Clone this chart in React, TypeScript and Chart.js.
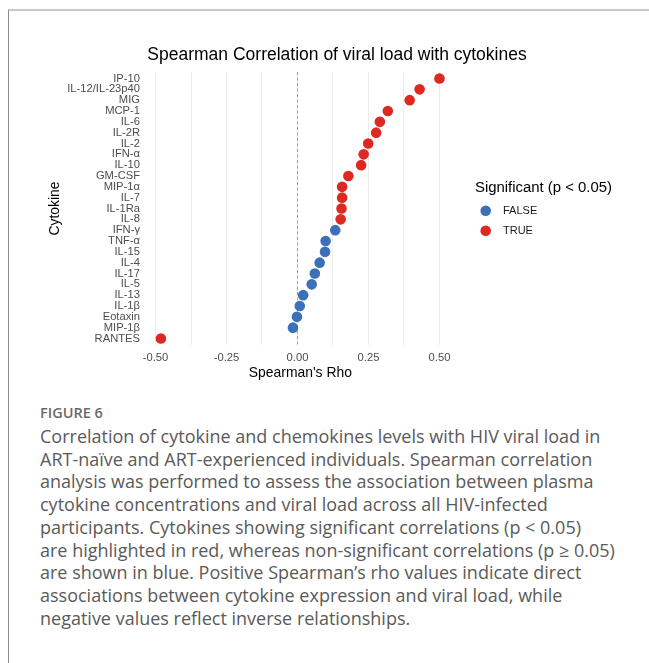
import React, { useEffect, useRef } from 'react';
import { Chart, registerables } from 'chart.js';

Chart.register(...registerables);

// ---------- data ----------
const cytokines = [
  'IP-10', 'IL-12/IL-23p40', 'MIG', 'MCP-1', 'IL-6', 'IL-2R', 'IL-2', 'IFN-α', 'IL-10', 'GM-CSF',
  'MIP-1α', 'IL-7', 'IL-1Ra', 'IL-8', 'IFN-γ', 'TNF-α', 'IL-15', 'IL-4', 'IL-17', 'IL-5',
  'IL-13', 'IL-1β', 'Eotaxin', 'MIP-1β', 'RANTES',
];
const rhoValues = [
  0.5, 0.43, 0.395, 0.318, 0.29, 0.277, 0.249, 0.233, 0.224, 0.179,
  0.157, 0.157, 0.155, 0.152, 0.133, 0.099, 0.097, 0.078, 0.061, 0.05,
  0.02, 0.008, -0.002, -0.016, -0.481,
];
const significant = [
  true, true, true, true, true, true, true, true, true, true,
  true, true, true, true, false, false, false, false, false, false,
  false, false, false, false, true,
];
const gridValues = [-0.5, -0.375, -0.25, -0.125, 0, 0.125, 0.25, 0.375, 0.5];
const xTickValues = [-0.5, -0.25, 0, 0.25, 0.5];
const xTickLabels = ['-0.50', '-0.25', '0.00', '0.25', '0.50'];
const groupLabels = ['FALSE', 'TRUE'];
const groupColors = ['#3c70b8', '#dc2a22'];
const legendTitle = 'Significant (p < 0.05)';
const chartTitle = 'Spearman Correlation of viral load with cytokines';
const xTitle = "Spearman's Rho";
const yTitle = 'Cytokine';
const captionHead = 'FIGURE 6';
const captionLines = [
  'Correlation of cytokine and chemokines levels with HIV viral load in',
  'ART-naïve and ART-experienced individuals. Spearman correlation',
  'analysis was performed to assess the association between plasma',
  'cytokine concentrations and viral load across all HIV-infected',
  'participants. Cytokines showing significant correlations (p < 0.05)',
  'are highlighted in red, whereas non-significant correlations (p ≥ 0.05)',
  'are shown in blue. Positive Spearman’s rho values indicate direct',
  'associations between cytokine expression and viral load, while',
  'negative values reflect inverse relationships.',
];

const FONT = '"Liberation Sans", Arial, Helvetica, sans-serif';

const zeroLinePlugin = {
  id: 'zeroLine',
  beforeDatasetsDraw(chart: any) {
    const { ctx, chartArea } = chart;
    const x = Math.round(chart.scales.x.getPixelForValue(0)) + 0.5;
    ctx.save();
    ctx.strokeStyle = '#8a8a8a';
    ctx.lineWidth = 0.8;
    ctx.setLineDash([3, 2.5]);
    ctx.beginPath();
    ctx.moveTo(x, chartArea.top);
    ctx.lineTo(x, chartArea.bottom);
    ctx.stroke();
    ctx.restore();
  },
};

const sigLegendPlugin = {
  id: 'sigLegend',
  afterDraw(chart: any) {
    const { ctx, chartArea } = chart;
    const x0 = chartArea.right + 21.6;
    const cy = (chartArea.top + chartArea.bottom) / 2;
    ctx.save();
    ctx.textAlign = 'left';
    ctx.textBaseline = 'middle';
    ctx.fillStyle = '#000';
    ctx.font = `14.9px ${FONT}`;
    ctx.fillText(legendTitle, x0, cy - 20.5);
    chart.data.datasets.forEach((ds: any, i: number) => {
      const y = cy + 2.2 + i * 20;
      ctx.beginPath();
      ctx.fillStyle = ds.backgroundColor;
      ctx.arc(x0 + 10.7, y, 5.3, 0, Math.PI * 2);
      ctx.fill();
      ctx.fillStyle = '#1a1a1a';
      ctx.font = `11px ${FONT}`;
      ctx.fillText(ds.label, x0 + 28, y);
    });
    ctx.restore();
  },
};

export default function App() {
  const canvasRef = useRef<HTMLCanvasElement | null>(null);

  useEffect(() => {
    if (!canvasRef.current) return;
    const datasets = groupLabels.map((label, g) => ({
      label,
      data: cytokines
        .map((_, i) => ({ x: rhoValues[i], y: i, s: significant[i] }))
        .filter((p) => p.s === (g === 1))
        .map((p) => ({ x: p.x, y: p.y })),
      backgroundColor: groupColors[g],
      borderWidth: 0,
      pointRadius: 5.3,
      pointHoverRadius: 5.3,
    }));

    const chart = new Chart(canvasRef.current, {
      type: 'scatter',
      data: { datasets },
      plugins: [zeroLinePlugin, sigLegendPlugin],
      options: {
        responsive: false,
        animation: false,
        events: [],
        layout: { padding: 0 },
        font: { family: FONT },
        plugins: {
          legend: { display: false },
          tooltip: { enabled: false },
          title: {
            display: true,
            text: chartTitle,
            color: '#000',
            font: { size: 17.5, weight: 'normal', family: FONT },
            padding: { top: 44.5, bottom: 6.5 },
          },
        },
        scales: {
          x: {
            type: 'linear',
            position: 'bottom',
            min: -0.5289,
            max: 0.549,
            afterBuildTicks: (s: any) => {
              s.ticks = gridValues.map((v) => ({ value: v }));
            },
            afterFit: (s: any) => {
              s.height = 55;
            },
            grid: { color: '#ebebeb', lineWidth: 1, drawTicks: false },
            border: { display: false },
            ticks: {
              autoSkip: false,
              maxRotation: 0,
              padding: 6,
              color: '#4d4d4d',
              font: { size: 11.2, family: FONT },
              callback: (v: any) => {
                const k = xTickValues.indexOf(Number(v));
                return k >= 0 ? xTickLabels[k] : '';
              },
            },
            title: {
              display: true,
              text: xTitle,
              color: '#000',
              font: { size: 13.9, family: FONT },
              padding: { top: 0, bottom: 18.66 },
            },
          },
          y: {
            type: 'linear',
            position: 'left',
            reverse: true,
            min: -0.6,
            max: cytokines.length - 0.4,
            afterBuildTicks: (s: any) => {
              s.ticks = cytokines.map((_, i) => ({ value: i }));
            },
            afterFit: (s: any) => {
              s.width = 122.3;
            },
            grid: { display: false, drawTicks: false },
            border: { display: false },
            ticks: {
              autoSkip: false,
              padding: 7.3,
              color: '#4d4d4d',
              font: { size: 11.2, family: FONT },
              callback: (v: any) => cytokines[Number(v)] ?? '',
            },
            title: {
              display: true,
              text: yTitle,
              color: '#000',
              font: { size: 13.9, family: FONT },
              padding: { top: 21.66, bottom: 0 },
            },
          },
          spacer: {
            type: 'linear',
            position: 'right',
            display: true,
            afterFit: (s: any) => {
              s.width = 195.6;
            },
            grid: { display: false, drawTicks: false },
            border: { display: false },
            ticks: { display: false },
          },
        },
      } as any,
    });
    return () => chart.destroy();
  }, []);

  return (
    <div
      style={{
        position: 'absolute',
        left: 0,
        top: 0,
        width: 649,
        height: 663,
        background: '#fff',
        overflow: 'hidden',
      }}
    >
      <div
        style={{
          position: 'absolute',
          left: 8,
          top: 9,
          right: 0,
          bottom: 0,
          borderTop: '2px solid #c8c8c8',
          borderLeft: '1px solid #8c8c8c',
        }}
      />
      <canvas
        ref={canvasRef}
        width={624}
        height={400}
        style={{ position: 'absolute', left: 25, top: 0, width: 624, height: 400 }}
      />
      <div
        style={{
          position: 'absolute',
          left: 40,
          top: 403,
          fontFamily: '"Open Sans", sans-serif',
          fontWeight: 600,
          fontSize: 14.5,
          lineHeight: '20px',
          color: '#6a6a6a',
          whiteSpace: 'nowrap',
        }}
      >
        {captionHead}
      </div>
      <div
        style={{
          position: 'absolute',
          left: 40,
          top: 425,
          fontFamily: '"Open Sans", sans-serif',
          fontSize: 18,
          lineHeight: '22.7px',
          color: '#5a5a5a',
          whiteSpace: 'nowrap',
        }}
      >
        {captionLines.map((l, i) => (
          <div key={i}>{l}</div>
        ))}
      </div>
    </div>
  );
}
